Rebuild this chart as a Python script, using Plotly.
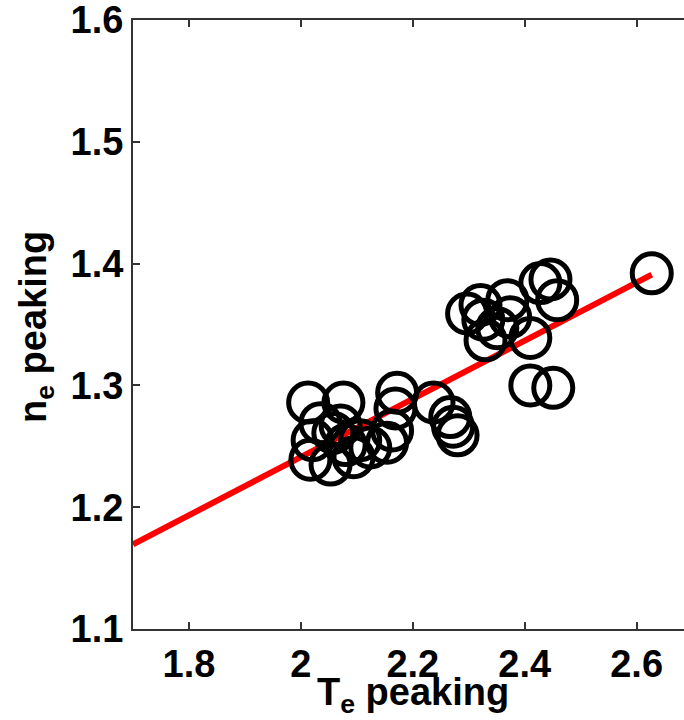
import plotly.graph_objects as go

# Temperature peaking vs density peaking, one point per discharge
te_peaking = [
    2.013, 2.076, 2.172, 2.169, 2.163, 2.017, 2.053, 2.094, 2.124, 2.035,
    2.058, 2.154, 2.080, 2.021, 2.106, 2.071,
    2.237, 2.267, 2.272, 2.280,
    2.297, 2.321, 2.326, 2.330, 2.351, 2.369, 2.374, 2.410, 2.428, 2.446,
    2.458, 2.410, 2.451, 2.627,
]
ne_peaking = [
    1.286, 1.286, 1.294, 1.281, 1.263, 1.239, 1.235, 1.241, 1.249, 1.269,
    1.261, 1.253, 1.251, 1.255, 1.255, 1.267,
    1.286, 1.274, 1.266, 1.259,
    1.359, 1.366, 1.354, 1.337, 1.347, 1.370, 1.356, 1.339, 1.384, 1.387,
    1.370, 1.300, 1.298, 1.392,
]

# Linear fit endpoints
fit_te = [1.70, 2.627]
fit_ne = [1.1695, 1.391]

x_ticks = [1.8, 2.0, 2.2, 2.4, 2.6]
x_tick_text = ["1.8", "2", "2.2", "2.4", "2.6"]
y_ticks = [1.1, 1.2, 1.3, 1.4, 1.5, 1.6]
y_tick_text = ["1.1", "1.2", "1.3", "1.4", "1.5", "1.6"]

FONT = "Liberation Sans, Arial, Helvetica, sans-serif"
AXIS_COLOR = "#333333"

fig = go.Figure()
fig.add_trace(go.Scatter(
    x=fit_te, y=fit_ne, mode="lines",
    line=dict(color="#ff0000", width=6),
    hoverinfo="skip", showlegend=False,
))
fig.add_trace(go.Scatter(
    x=te_peaking, y=ne_peaking, mode="markers",
    marker=dict(symbol="circle-open", size=39, color="black",
                line=dict(color="black", width=5)),
    showlegend=False,
))

L, R, T, B = 133, 0, 20, 91
W, H = 684, 720
pw, ph = W - L - R, H - T - B
x_range = [1.7, 1.7 + pw / 559.6]
y_range = [1.1, 1.6]

fig.update_layout(
    width=W, height=H,
    margin=dict(l=L, r=R, t=T, b=B, pad=0),
    paper_bgcolor="white", plot_bgcolor="white",
    font=dict(family=FONT, color="black"),
)
fig.update_xaxes(
    range=x_range,
    tickvals=x_ticks, ticktext=x_tick_text,
    tickfont=dict(family=FONT, size=38, weight="bold", color="black"),
    ticks="inside", ticklen=7, tickwidth=2, tickcolor=AXIS_COLOR,
    showline=True, linecolor=AXIS_COLOR, linewidth=2, mirror="ticks",
    ticklabeloverflow="allow",
    showgrid=False, zeroline=False,
)
fig.update_yaxes(
    range=y_range,
    tickvals=y_ticks, ticktext=y_tick_text,
    tickfont=dict(family=FONT, size=38, weight="bold", color="black"),
    ticks="inside", ticklen=7, tickwidth=2, tickcolor=AXIS_COLOR,
    showline=True, linecolor=AXIS_COLOR, linewidth=2, mirror=False,
    ticklabeloverflow="allow",
    showgrid=False, zeroline=False,
)

# Axis titles placed as annotations
fig.add_annotation(
    text="T<sub>e</sub> peaking", xref="paper", yref="paper",
    x=(413 - L) / pw, y=-(695 - (H - B)) / ph,
    xanchor="center", yanchor="middle", showarrow=False,
    font=dict(family=FONT, size=38, weight="bold", color="black"),
)
fig.add_annotation(
    text="n<sub>e</sub> peaking", xref="paper", yref="paper",
    x=(36 - L) / pw, y=(H - B - 327) / ph,
    xanchor="center", yanchor="middle", showarrow=False, textangle=-90,
    font=dict(family=FONT, size=38, weight="bold", color="black"),
)

fig.write_html("out.html")
